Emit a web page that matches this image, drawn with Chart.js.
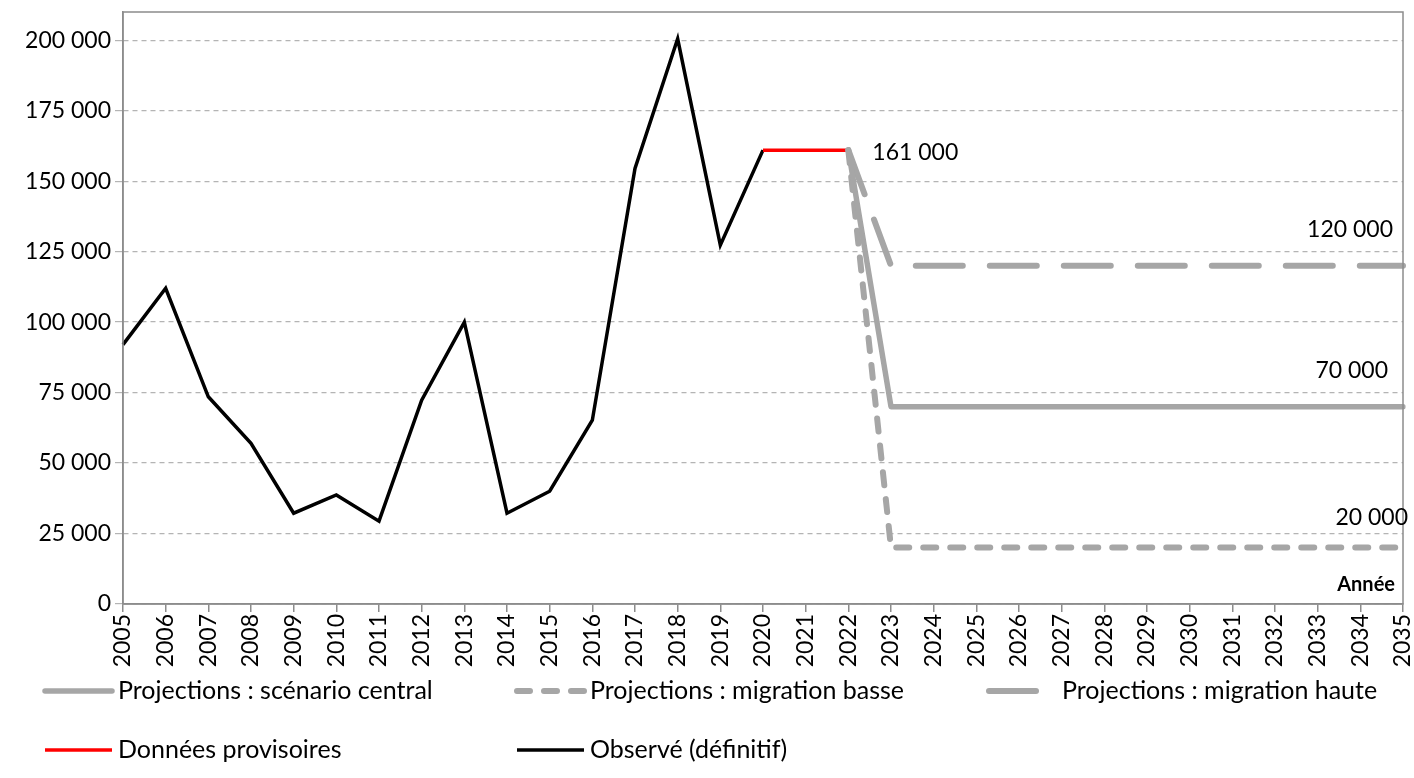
<!DOCTYPE html>
<html>
<head>
<meta charset="utf-8">
<script src="https://cdn.jsdelivr.net/npm/chart.js@4/dist/chart.umd.min.js"></script>
<style>
  html, body { margin: 0; padding: 0; background: #fff; }
  #wrap { width: 1414px; height: 778px; }
</style>
</head>
<body>
<div id="wrap"><canvas id="chart"></canvas></div>
<script>
// years on the x axis
var years = ["2005", "2006", "2007", "2008", "2009", "2010", "2011", "2012", "2013", "2014",
  "2015", "2016", "2017", "2018", "2019", "2020", "2021", "2022", "2023", "2024",
  "2025", "2026", "2027", "2028", "2029", "2030", "2031", "2032", "2033", "2034", "2035"];

// observed (final) values 2005-2020
var observed = [92000, 112000, 73500, 57000, 32200, 38700, 29400, 72300, 100000, 32200,
  40000, 65200, 154500, 200500, 127300, 161000];
// provisional data 2020-2022
var provisional = [161000, 161000, 161000];
// projections 2022-2035
var central = [161000, 70000, 70000, 70000, 70000, 70000, 70000, 70000, 70000, 70000, 70000, 70000, 70000, 70000];
var migBasse = [161000, 20000, 20000, 20000, 20000, 20000, 20000, 20000, 20000, 20000, 20000, 20000, 20000, 20000];
var migHaute = [161000, 120000, 120000, 120000, 120000, 120000, 120000, 120000, 120000, 120000, 120000, 120000, 120000, 120000];

var yTicks = [0, 25000, 50000, 75000, 100000, 125000, 150000, 175000, 200000];

// put a short series at the right place in the 31 years
function place(values, startYear) {
  var out = years.map(function () { return null; });
  var i0 = years.indexOf(startYear);
  values.forEach(function (v, i) { out[i0 + i] = v; });
  return out;
}

function fmt(v) {
  return String(v).replace(/\B(?=(\d{3})+(?!\d))/g, " ");
}

var GRAY = '#a6a6a6';
var FONT = 'Lato, "Open Sans", sans-serif';

Chart.defaults.color = '#000';
Chart.defaults.font.family = FONT;

var datasets = [
  { label: 'Projections : scénario central', data: place(central, "2022"), borderColor: GRAY, borderWidth: 5.5, borderCapStyle: 'round', borderJoinStyle: 'round' },
  { label: 'Projections : migration basse', data: place(migBasse, "2022"), borderColor: GRAY, borderWidth: 6, borderDash: [13, 14], borderCapStyle: 'round' },
  { label: 'Projections : migration haute', data: place(migHaute, "2022"), borderColor: GRAY, borderWidth: 6, borderDash: [47, 27], borderCapStyle: 'round' },
  { label: 'Données provisoires', data: place(provisional, "2020"), borderColor: '#ff0000', borderWidth: 3.5 },
  { label: 'Observé (définitif)', data: place(observed, "2005"), borderColor: '#000000', borderWidth: 3.5, borderJoinStyle: 'miter' }
];
datasets.forEach(function (d) {
  d.pointRadius = 0;
  d.pointHoverRadius = 0;
  d.tension = 0;
  d.fill = false;
  d.spanGaps = false;
});

// box around the plot, value labels and "Année"
var extras = {
  id: 'extras',
  afterDatasetsDraw: function (chart) {
    var ctx = chart.ctx, a = chart.chartArea, x = chart.scales.x, y = chart.scales.y;
    ctx.save();
    ctx.strokeStyle = '#8c8c8c';
    ctx.lineWidth = 1.5;
    ctx.strokeRect(a.left, a.top, a.right - a.left, a.bottom - a.top);

    ctx.fillStyle = '#000';
    ctx.font = '23px ' + FONT;
    ctx.textBaseline = 'middle';
    ctx.textAlign = 'left';
    ctx.fillText(fmt(provisional[2]), x.getPixelForValue(years.indexOf("2022")) + 24, y.getPixelForValue(provisional[2]) + 2);
    ctx.textAlign = 'right';
    ctx.fillText(fmt(migHaute[1]), a.right - 10, y.getPixelForValue(migHaute[1]) - 36);
    ctx.fillText(fmt(central[1]), a.right - 15, y.getPixelForValue(central[1]) - 36);
    ctx.fillText(fmt(migBasse[1]), a.right + 5, y.getPixelForValue(migBasse[1]) - 30);
    ctx.font = 'bold 20px ' + FONT;
    ctx.fillText('Année', a.right - 8, a.bottom - 19);
    ctx.restore();
  },
  afterDraw: function (chart) {
    // legend in two rows, three columns
    var ctx = chart.ctx;
    var cols = [42, 514, 986];
    var rows = [691, 750];
    var textX = [118, 590, 1062];
    ctx.save();
    ctx.font = '25px ' + FONT;
    ctx.textBaseline = 'middle';
    ctx.textAlign = 'left';
    chart.data.datasets.forEach(function (d, i) {
      var c = i % 3, r = Math.floor(i / 3);
      var yy = rows[r];
      ctx.beginPath();
      ctx.strokeStyle = d.borderColor;
      ctx.lineWidth = d.borderWidth;
      ctx.lineCap = d.borderCapStyle || 'butt';
      ctx.setLineDash(d.borderDash || []);
      ctx.moveTo(cols[c] + 3, yy);
      ctx.lineTo(cols[c] + 70, yy);
      ctx.stroke();
      ctx.setLineDash([]);
      ctx.fillStyle = '#000';
      ctx.fillText(d.label, textX[c], yy);
    });
    ctx.restore();
  }
};

new Chart(document.getElementById('chart'), {
  type: 'line',
  data: { labels: years, datasets: datasets },
  options: {
    responsive: true,
    maintainAspectRatio: false,
    animation: false,
    layout: { padding: { top: 12, right: 11, bottom: 104, left: 0 } },
    plugins: { legend: { display: false }, tooltip: { enabled: false } },
    scales: {
      x: {
        offset: false,
        grid: { drawOnChartArea: false, drawTicks: true, tickLength: 8, color: '#8c8c8c', lineWidth: 1.5 },
        border: { color: '#8c8c8c', width: 1.5 },
        ticks: { autoSkip: false, minRotation: 90, maxRotation: 90, padding: 2, font: { size: 23 } },
        afterFit: function (s) { s.height = 70; s.paddingLeft = 0; s.paddingRight = 0; }
      },
      y: {
        min: 0,
        max: 210000,
        grid: { color: '#b4b4b4', lineWidth: 1.2, tickLength: 8 },
        border: { color: '#8c8c8c', width: 1.5, dash: [5, 4] },
        afterBuildTicks: function (s) { s.ticks = yTicks.map(function (v) { return { value: v }; }); },
        ticks: { padding: 4, font: { size: 23 }, callback: function (v) { return fmt(v); } },
        afterFit: function (s) { s.width = 123; s.paddingTop = 0; s.paddingBottom = 0; }
      }
    }
  },
  plugins: [extras]
});
</script>
</body>
</html>
